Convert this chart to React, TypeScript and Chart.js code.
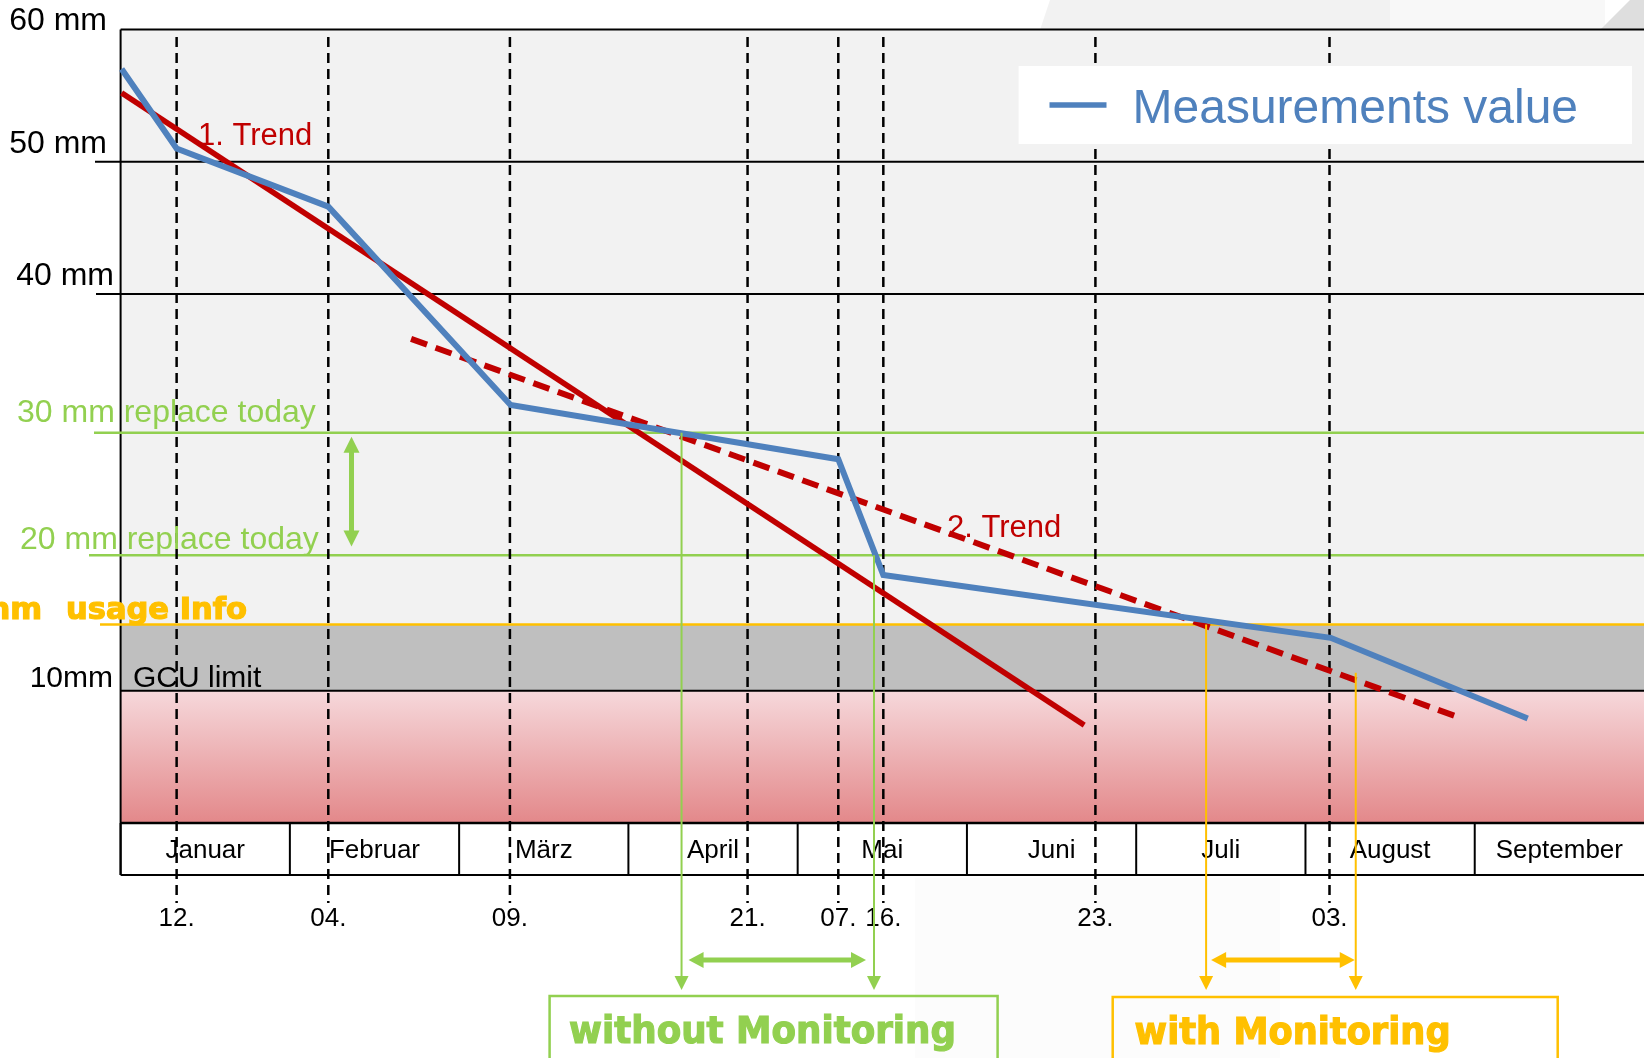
import React, { useEffect, useRef } from 'react';
import { Chart, registerables } from 'chart.js';

Chart.register(...registerables);

const W = 1644;
const H = 1058;

// ---- data ----
const months = ['Januar', 'Februar', 'März', 'April', 'Mai', 'Juni', 'Juli', 'August', 'September'];
const dateLabels = ['12.', '04.', '09.', '21.', '07.', '16.', '23.', '03.'];
const datePositions = [0.331, 1.227, 2.3, 3.704, 4.24, 4.506, 5.759, 7.142];

const measurementX = [0.006, 0.331, 1.227, 2.304, 4.24, 4.506, 7.149, 8.313];
const measurementValues = [57.0, 51.0, 46.6, 31.6, 27.5, 18.75, 14.0, 7.9];

const trend1X = [0.006, 5.693];
const trend1Values = [55.2, 7.4];

const trend2X = [1.716, 7.925];
const trend2Values = [36.6, 7.9];

const yTickValues = [60, 50, 40];
const yTickLabels = ['60 mm', '50 mm', '40 mm'];

const replaceLimits = [29.5, 20.25];
const replaceLabels = ['30 mm replace today', '20 mm replace today'];
const usageInfoLimit = 15;
const gcuLimit = 10;

// crossing points (month units) used by the annotation arrows
const withoutMonitoring = [3.314, 4.451];
const withMonitoring = [6.413, 7.297];
const secondCrossValue = 11.36;

const GREEN = '#92d050';
const ORANGE = '#ffc000';
const RED = '#c00000';
const BLUE = '#4f81bd';
const FONT = '"Liberation Sans", Arial, sans-serif';
const BOLD = '"DejaVu Sans", "Liberation Sans", sans-serif';

function line(ctx: CanvasRenderingContext2D, x1: number, y1: number, x2: number, y2: number, color: string, width: number, dash: number[] = []) {
  ctx.save();
  ctx.strokeStyle = color;
  ctx.lineWidth = width;
  ctx.setLineDash(dash);
  ctx.beginPath();
  ctx.moveTo(x1, y1);
  ctx.lineTo(x2, y2);
  ctx.stroke();
  ctx.restore();
}

function head(ctx: CanvasRenderingContext2D, x: number, y: number, angle: number, len: number, half: number, color: string) {
  ctx.save();
  ctx.translate(x, y);
  ctx.rotate(angle);
  ctx.fillStyle = color;
  ctx.beginPath();
  ctx.moveTo(0, 0);
  ctx.lineTo(-len, -half);
  ctx.lineTo(-len, half);
  ctx.closePath();
  ctx.fill();
  ctx.restore();
}

function text(ctx: CanvasRenderingContext2D, s: string, x: number, y: number, font: string, color: string, align: CanvasTextAlign = 'left', baseline: CanvasTextBaseline = 'alphabetic') {
  ctx.save();
  ctx.font = font;
  ctx.fillStyle = color;
  ctx.textAlign = align;
  ctx.textBaseline = baseline;
  ctx.fillText(s, x, y);
  ctx.restore();
}

function fitText(ctx: CanvasRenderingContext2D, s: string, x: number, y: number, width: number, font: string, color: string) {
  ctx.save();
  ctx.font = font;
  ctx.fillStyle = color;
  ctx.strokeStyle = color;
  ctx.lineWidth = 1.2;
  ctx.textBaseline = 'alphabetic';
  const w = ctx.measureText(s).width;
  ctx.translate(x, y);
  ctx.scale(width / w, 1);
  ctx.fillText(s, 0, 0);
  ctx.strokeText(s, 0, 0);
  ctx.restore();
}

const diagramPlugin = {
  id: 'diagram',
  beforeDraw(chart: any) {
    const ctx: CanvasRenderingContext2D = chart.ctx;
    const xs = chart.scales.x;
    const ys = chart.scales.y;
    const px = (v: number) => xs.getPixelForValue(v);
    const py = (v: number) => ys.getPixelForValue(v);
    const { left, right, bottom } = chart.chartArea;
    const rowH = 52;

    ctx.save();
    ctx.fillStyle = '#ffffff';
    ctx.fillRect(0, 0, W, H);

    // faint slide background shapes
    ctx.fillStyle = '#f2f2f2';
    ctx.beginPath();
    ctx.moveTo(1050, 0); ctx.lineTo(1390, 0); ctx.lineTo(1390, 30); ctx.lineTo(1040, 30); ctx.closePath();
    ctx.fill();
    ctx.fillStyle = '#f8f8f8';
    ctx.fillRect(1390, 0, 215, 30);
    ctx.fillStyle = '#dedede';
    ctx.beginPath();
    ctx.moveTo(1630, 0); ctx.lineTo(W, 0); ctx.lineTo(W, 30); ctx.lineTo(1600, 30); ctx.closePath();
    ctx.fill();
    ctx.fillStyle = '#fcfcfc';
    ctx.fillRect(915, 878, 365, H - 878);

    // plot bands
    ctx.fillStyle = '#f2f2f2';
    ctx.fillRect(left, py(60), right - left, py(usageInfoLimit) - py(60));
    ctx.fillStyle = '#bfbfbf';
    ctx.fillRect(left, py(usageInfoLimit), right - left, py(gcuLimit) - py(usageInfoLimit));
    const g = ctx.createLinearGradient(0, py(gcuLimit), 0, py(0));
    g.addColorStop(0, '#f6d8db');
    g.addColorStop(1, '#e3888a');
    ctx.fillStyle = g;
    ctx.fillRect(left, py(gcuLimit), right - left, py(0) - py(gcuLimit));

    // month row
    ctx.fillStyle = '#ffffff';
    ctx.fillRect(left, bottom, right - left, rowH);
    months.forEach((m, i) => {
      line(ctx, px(i), bottom, px(i), bottom + rowH, '#000', 2);
      text(ctx, m, (px(i) + px(i + 1)) / 2, bottom + 28, `26px ${FONT}`, '#000', 'center', 'middle');
    });
    line(ctx, left, bottom + rowH, right, bottom + rowH, '#000', 2);

    // horizontal lines
    line(ctx, left, py(60), right, py(60), '#000', 2);
    line(ctx, 95, py(50), right, py(50), '#000', 2);
    line(ctx, 96, py(40), right, py(40), '#000', 2);
    line(ctx, left, py(gcuLimit), right, py(gcuLimit), '#000', 2);
    line(ctx, left, py(0), right, py(0), '#000', 2.5);
    line(ctx, left, py(60), left, bottom + rowH, '#000', 2);
    line(ctx, 94, py(replaceLimits[0]), right, py(replaceLimits[0]), GREEN, 2.5);
    line(ctx, 89, py(replaceLimits[1]), right, py(replaceLimits[1]), GREEN, 2.5);
    line(ctx, 100, py(usageInfoLimit), right, py(usageInfoLimit), ORANGE, 2.5);

    // dashed date lines + labels
    datePositions.forEach((p, i) => {
      line(ctx, px(p), 37, px(p), 903, '#000', 2.5, [10, 6]);
      text(ctx, dateLabels[i], px(p), 926, `26px ${FONT}`, '#000', 'center');
    });

    // y labels
    yTickValues.forEach((v, i) => {
      const rightEdge = i === yTickValues.length - 1 ? 114 : 107;
      text(ctx, yTickLabels[i], rightEdge, Math.max(py(v) - 9, 29.5), `32px ${FONT}`, '#000', 'right');
    });
    replaceLimits.forEach((v, i) => {
      text(ctx, replaceLabels[i], i === 0 ? 17 : 20, py(v) - (i === 0 ? 11 : 6), `32px ${FONT}`, GREEN);
    });
    text(ctx, '10mm', 113, py(gcuLimit) - 4, `30px ${FONT}`, '#000', 'right');
    text(ctx, 'GCU limit', 133, py(gcuLimit) - 4, `30px ${FONT}`, '#000');
    ctx.restore();
  },
  afterDatasetsDraw(chart: any) {
    const ctx: CanvasRenderingContext2D = chart.ctx;
    const xs = chart.scales.x;
    const ys = chart.scales.y;
    const px = (v: number) => xs.getPixelForValue(v);
    const py = (v: number) => ys.getPixelForValue(v);
    const tipY = 990;
    const arrowY = 960;

    // orange usage info text
    ctx.save();
    ctx.font = `bold 30px ${BOLD}`;
    const sc = 181 / ctx.measureText('usage Info').width;
    ctx.restore();
    ctx.save();
    ctx.font = `bold 30px ${BOLD}`;
    ctx.fillStyle = ORANGE;
    ctx.strokeStyle = ORANGE;
    ctx.lineWidth = 1.2;
    ctx.translate(66, py(usageInfoLimit) - 6);
    ctx.scale(sc, 1);
    ctx.fillText('usage Info', 0, 0);
    ctx.strokeText('usage Info', 0, 0);
    ctx.textAlign = 'right';
    ctx.fillText('15mm', (42 - 66) / sc, 0);
    ctx.strokeText('15mm', (42 - 66) / sc, 0);
    ctx.restore();

    // green vertical double arrow between replace limits
    const gx = px(1.364);
    line(ctx, gx, py(29.2) + 12, gx, py(20.9) - 12, GREEN, 5);
    head(ctx, gx, py(29.2), -Math.PI / 2, 16, 8, GREEN);
    head(ctx, gx, py(20.9), Math.PI / 2, 16, 8, GREEN);

    // drop lines
    line(ctx, px(withoutMonitoring[0]), py(replaceLimits[0]), px(withoutMonitoring[0]), tipY - 10, GREEN, 2);
    head(ctx, px(withoutMonitoring[0]), tipY, Math.PI / 2, 14, 7, GREEN);
    line(ctx, px(withoutMonitoring[1]), py(replaceLimits[1]), px(withoutMonitoring[1]), tipY - 10, GREEN, 2);
    head(ctx, px(withoutMonitoring[1]), tipY, Math.PI / 2, 14, 7, GREEN);
    line(ctx, px(withMonitoring[0]), py(usageInfoLimit), px(withMonitoring[0]), tipY - 10, ORANGE, 2);
    head(ctx, px(withMonitoring[0]), tipY, Math.PI / 2, 14, 7, ORANGE);
    line(ctx, px(withMonitoring[1]), py(secondCrossValue), px(withMonitoring[1]), tipY - 10, ORANGE, 2);
    head(ctx, px(withMonitoring[1]), tipY, Math.PI / 2, 14, 7, ORANGE);

    // horizontal double arrows
    const ga = px(withoutMonitoring[0]) + 7, gb = px(withoutMonitoring[1]) - 8;
    line(ctx, ga + 10, arrowY, gb - 10, arrowY, GREEN, 5);
    head(ctx, ga, arrowY, Math.PI, 15, 8, GREEN);
    head(ctx, gb, arrowY, 0, 15, 8, GREEN);
    const oa = px(withMonitoring[0]) + 5, ob = px(withMonitoring[1]) - 1;
    line(ctx, oa + 10, arrowY, ob - 10, arrowY, ORANGE, 5);
    head(ctx, oa, arrowY, Math.PI, 15, 8, ORANGE);
    head(ctx, ob, arrowY, 0, 15, 8, ORANGE);

    // boxes
    ctx.save();
    ctx.lineWidth = 2.5;
    ctx.strokeStyle = GREEN;
    ctx.strokeRect(549.6, 996, 448, 80);
    ctx.strokeStyle = ORANGE;
    ctx.strokeRect(1112.7, 997, 445, 80);
    ctx.restore();
    fitText(ctx, 'without Monitoring', 569, 1043, 387, `bold 37px ${BOLD}`, GREEN);
    fitText(ctx, 'with Monitoring', 1134.6, 1044, 316, `bold 37px ${BOLD}`, ORANGE);

    // trend labels
    text(ctx, '1. Trend', 198, 145, `31px ${FONT}`, RED);
    text(ctx, '2. Trend', 947, 537, `31px ${FONT}`, RED);

    // legend
    const ds = chart.data.datasets[0];
    ctx.save();
    ctx.fillStyle = '#ffffff';
    ctx.fillRect(1018.6, 66, 613.4, 78);
    ctx.restore();
    line(ctx, 1049.5, 105, 1106.5, 105, ds.borderColor, 5.5);
    text(ctx, ds.label, 1132.5, 123, `48px ${FONT}`, ds.borderColor);
  },
};

export default function App() {
  const ref = useRef<HTMLCanvasElement>(null);
  useEffect(() => {
    const toPts = (xv: number[], yv: number[]) => xv.map((x, i) => ({ x, y: yv[i] }));
    const chart = new Chart(ref.current as HTMLCanvasElement, {
      type: 'line',
      data: {
        datasets: [
          {
            label: 'Measurements value',
            data: toPts(measurementX, measurementValues),
            borderColor: BLUE,
            borderWidth: 6,
            pointRadius: 0,
            tension: 0,
            clip: false as any,
          },
          {
            label: '1. Trend',
            data: toPts(trend1X, trend1Values),
            borderColor: RED,
            borderWidth: 5.5,
            pointRadius: 0,
            clip: false as any,
          },
          {
            label: '2. Trend',
            data: toPts(trend2X, trend2Values),
            borderColor: RED,
            borderWidth: 6,
            borderDash: [17, 9],
            pointRadius: 0,
            clip: false as any,
          },
        ],
      },
      options: {
        responsive: false,
        animation: false,
        events: [],
        layout: { padding: { left: 120.6, top: 29.4, right: 0, bottom: H - 823 } },
        scales: {
          x: { type: 'linear', min: 0, max: 9, display: false },
          y: { type: 'linear', min: 0, max: 60, display: false },
        },
        plugins: { legend: { display: false }, tooltip: { enabled: false } },
      },
      plugins: [diagramPlugin],
    } as any);
    return () => chart.destroy();
  }, []);
  return (
    <div style={{ position: 'absolute', left: 0, top: 0, width: W, height: H, background: '#fff' }}>
      <canvas ref={ref} width={W} height={H} style={{ width: W, height: H, display: 'block' }} />
    </div>
  );
}
